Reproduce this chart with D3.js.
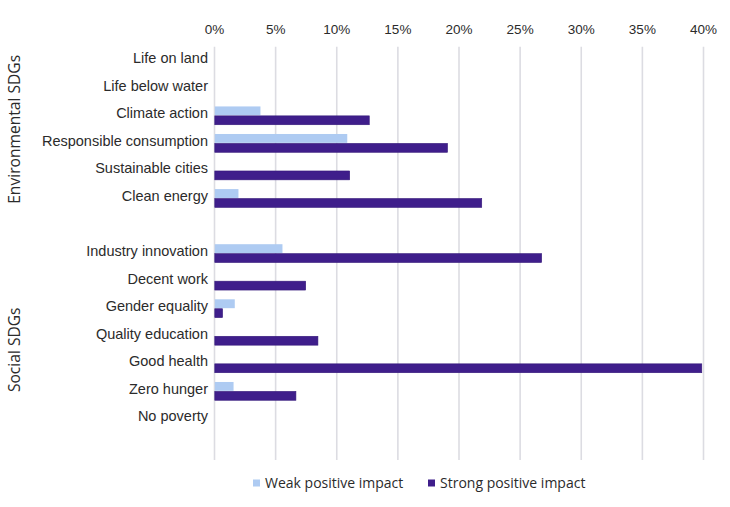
<!DOCTYPE html>
<html>
<head>
<meta charset="utf-8">
<script src="https://cdn.jsdelivr.net/npm/d3@7"></script>
<style>
  body { margin: 0; background: #fff; }
  svg { font-family: "Open Sans", "Noto Sans", sans-serif; }
  .grid line { stroke: #dcdce2; stroke-width: 1.6; }
  .grid .domain { display: none; }
  .tick text { fill: #2b2b2b; }
</style>
</head>
<body>
<div id="chart"></div>
<script>
// data
const envCategories = ["Life on land", "Life below water", "Climate action", "Responsible consumption", "Sustainable cities", "Clean energy"];
const socialCategories = ["Industry innovation", "Decent work", "Gender equality", "Quality education", "Good health", "Zero hunger", "No poverty"];
const envWeak = [0, 0, 3.8, 10.9, 0, 2.0];
const envStrong = [0, 0, 12.7, 19.1, 11.1, 21.9];
const socialWeak = [5.6, 0, 1.7, 0, 0, 1.6, 0];
const socialStrong = [26.8, 7.5, 0.7, 8.5, 39.9, 6.7, 0];
const seriesNames = ["Weak positive impact", "Strong positive impact"];
const seriesColors = ["#aecbf2", "#3f1e8b"];
const xTicks = [0, 5, 10, 15, 20, 25, 30, 35, 40];

const width = 730, height = 507;
const plot = { left: 214, right: 703, top: 46.7, bottom: 460 };

// rows, with an empty slot between the groups and one at the bottom
const rows = [];
envCategories.forEach((c, i) => rows.push({ key: c, label: c, values: [envWeak[i], envStrong[i]] }));
rows.push({ key: "_gap1", label: "", values: null });
socialCategories.forEach((c, i) => rows.push({ key: c, label: c, values: [socialWeak[i], socialStrong[i]] }));
rows.push({ key: "_gap2", label: "", values: null });

const svg = d3.select("#chart").append("svg")
    .attr("width", width)
    .attr("height", height);

const x = d3.scaleLinear().domain([0, 40]).range([plot.left, plot.right]);
const y = d3.scaleBand()
    .domain(rows.map(d => d.key))
    .range([plot.top, plot.bottom])
    .paddingInner(0.336)
    .paddingOuter(0.168);
const ySub = d3.scaleBand()
    .domain([0, 1])
    .range([0, y.bandwidth()])
    .paddingInner(0.06);

// gridlines
svg.append("g")
    .attr("class", "grid")
    .attr("transform", "translate(0," + plot.top + ")")
    .call(d3.axisBottom(x).tickValues(xTicks).tickSize(plot.bottom - plot.top).tickFormat(""));

// top tick labels
const xAxis = svg.append("g")
    .attr("transform", "translate(0," + (plot.top - 13) + ")")
    .call(d3.axisTop(x).tickValues(xTicks).tickSize(0).tickPadding(0).tickFormat(d => d + "%"));
xAxis.select(".domain").remove();
xAxis.selectAll("text").style("font-size", "13.5px");

// bars
const rowG = svg.append("g").selectAll("g")
    .data(rows.filter(d => d.values))
    .join("g")
    .attr("transform", d => "translate(0," + y(d.key) + ")");
rowG.selectAll("rect")
    .data(d => d.values.map((v, i) => ({ v, i })).filter(e => e.v > 0))
    .join("rect")
    .attr("x", x(0) + 0.8)
    .attr("y", e => ySub(e.i))
    .attr("width", e => x(e.v) - x(0) - 0.8)
    .attr("height", ySub.bandwidth())
    .attr("fill", e => seriesColors[e.i])
    .attr("stroke", e => e.i === 1 ? "#35197a" : "none")
    .attr("stroke-width", 0.6);

// category labels
const yAxis = svg.append("g")
    .attr("transform", "translate(" + plot.left + ",-2)")
    .call(d3.axisLeft(y).tickSize(0).tickPadding(6).tickFormat(k => rows.find(r => r.key === k).label));
yAxis.select(".domain").remove();
yAxis.selectAll("text").style("font-size", "14.5px");

// group labels
const envMid = (y(envCategories[0]) - y.step() * y.paddingOuter() + y(envCategories[5]) + y.bandwidth() + y.step() * y.paddingInner() / 2) / 2;
const socMid = (y(socialCategories[0]) - y.step() * y.paddingInner() / 2 + plot.bottom) / 2;
[["Environmental SDGs", envMid], ["Social SDGs", socMid]].forEach(([t, c]) => {
  svg.append("text")
      .attr("transform", "translate(20," + c + ") rotate(-90)")
      .attr("text-anchor", "middle")
      .style("font-size", "15.6px")
      .style("fill", "#2b2b2b")
      .text(t);
});

// legend
const legend = svg.append("g").attr("transform", "translate(253,483)");
const legendX = [0, 175];
seriesNames.forEach((name, i) => {
  const g = legend.append("g").attr("transform", "translate(" + legendX[i] + ",0)");
  g.append("rect").attr("x", 0).attr("y", -3.5).attr("width", 7).attr("height", 7).attr("fill", seriesColors[i]);
  g.append("text").attr("x", 12).attr("dy", "0.35em").style("font-size", "14px").style("fill", "#2b2b2b").text(name);
});
</script>
</body>
</html>
